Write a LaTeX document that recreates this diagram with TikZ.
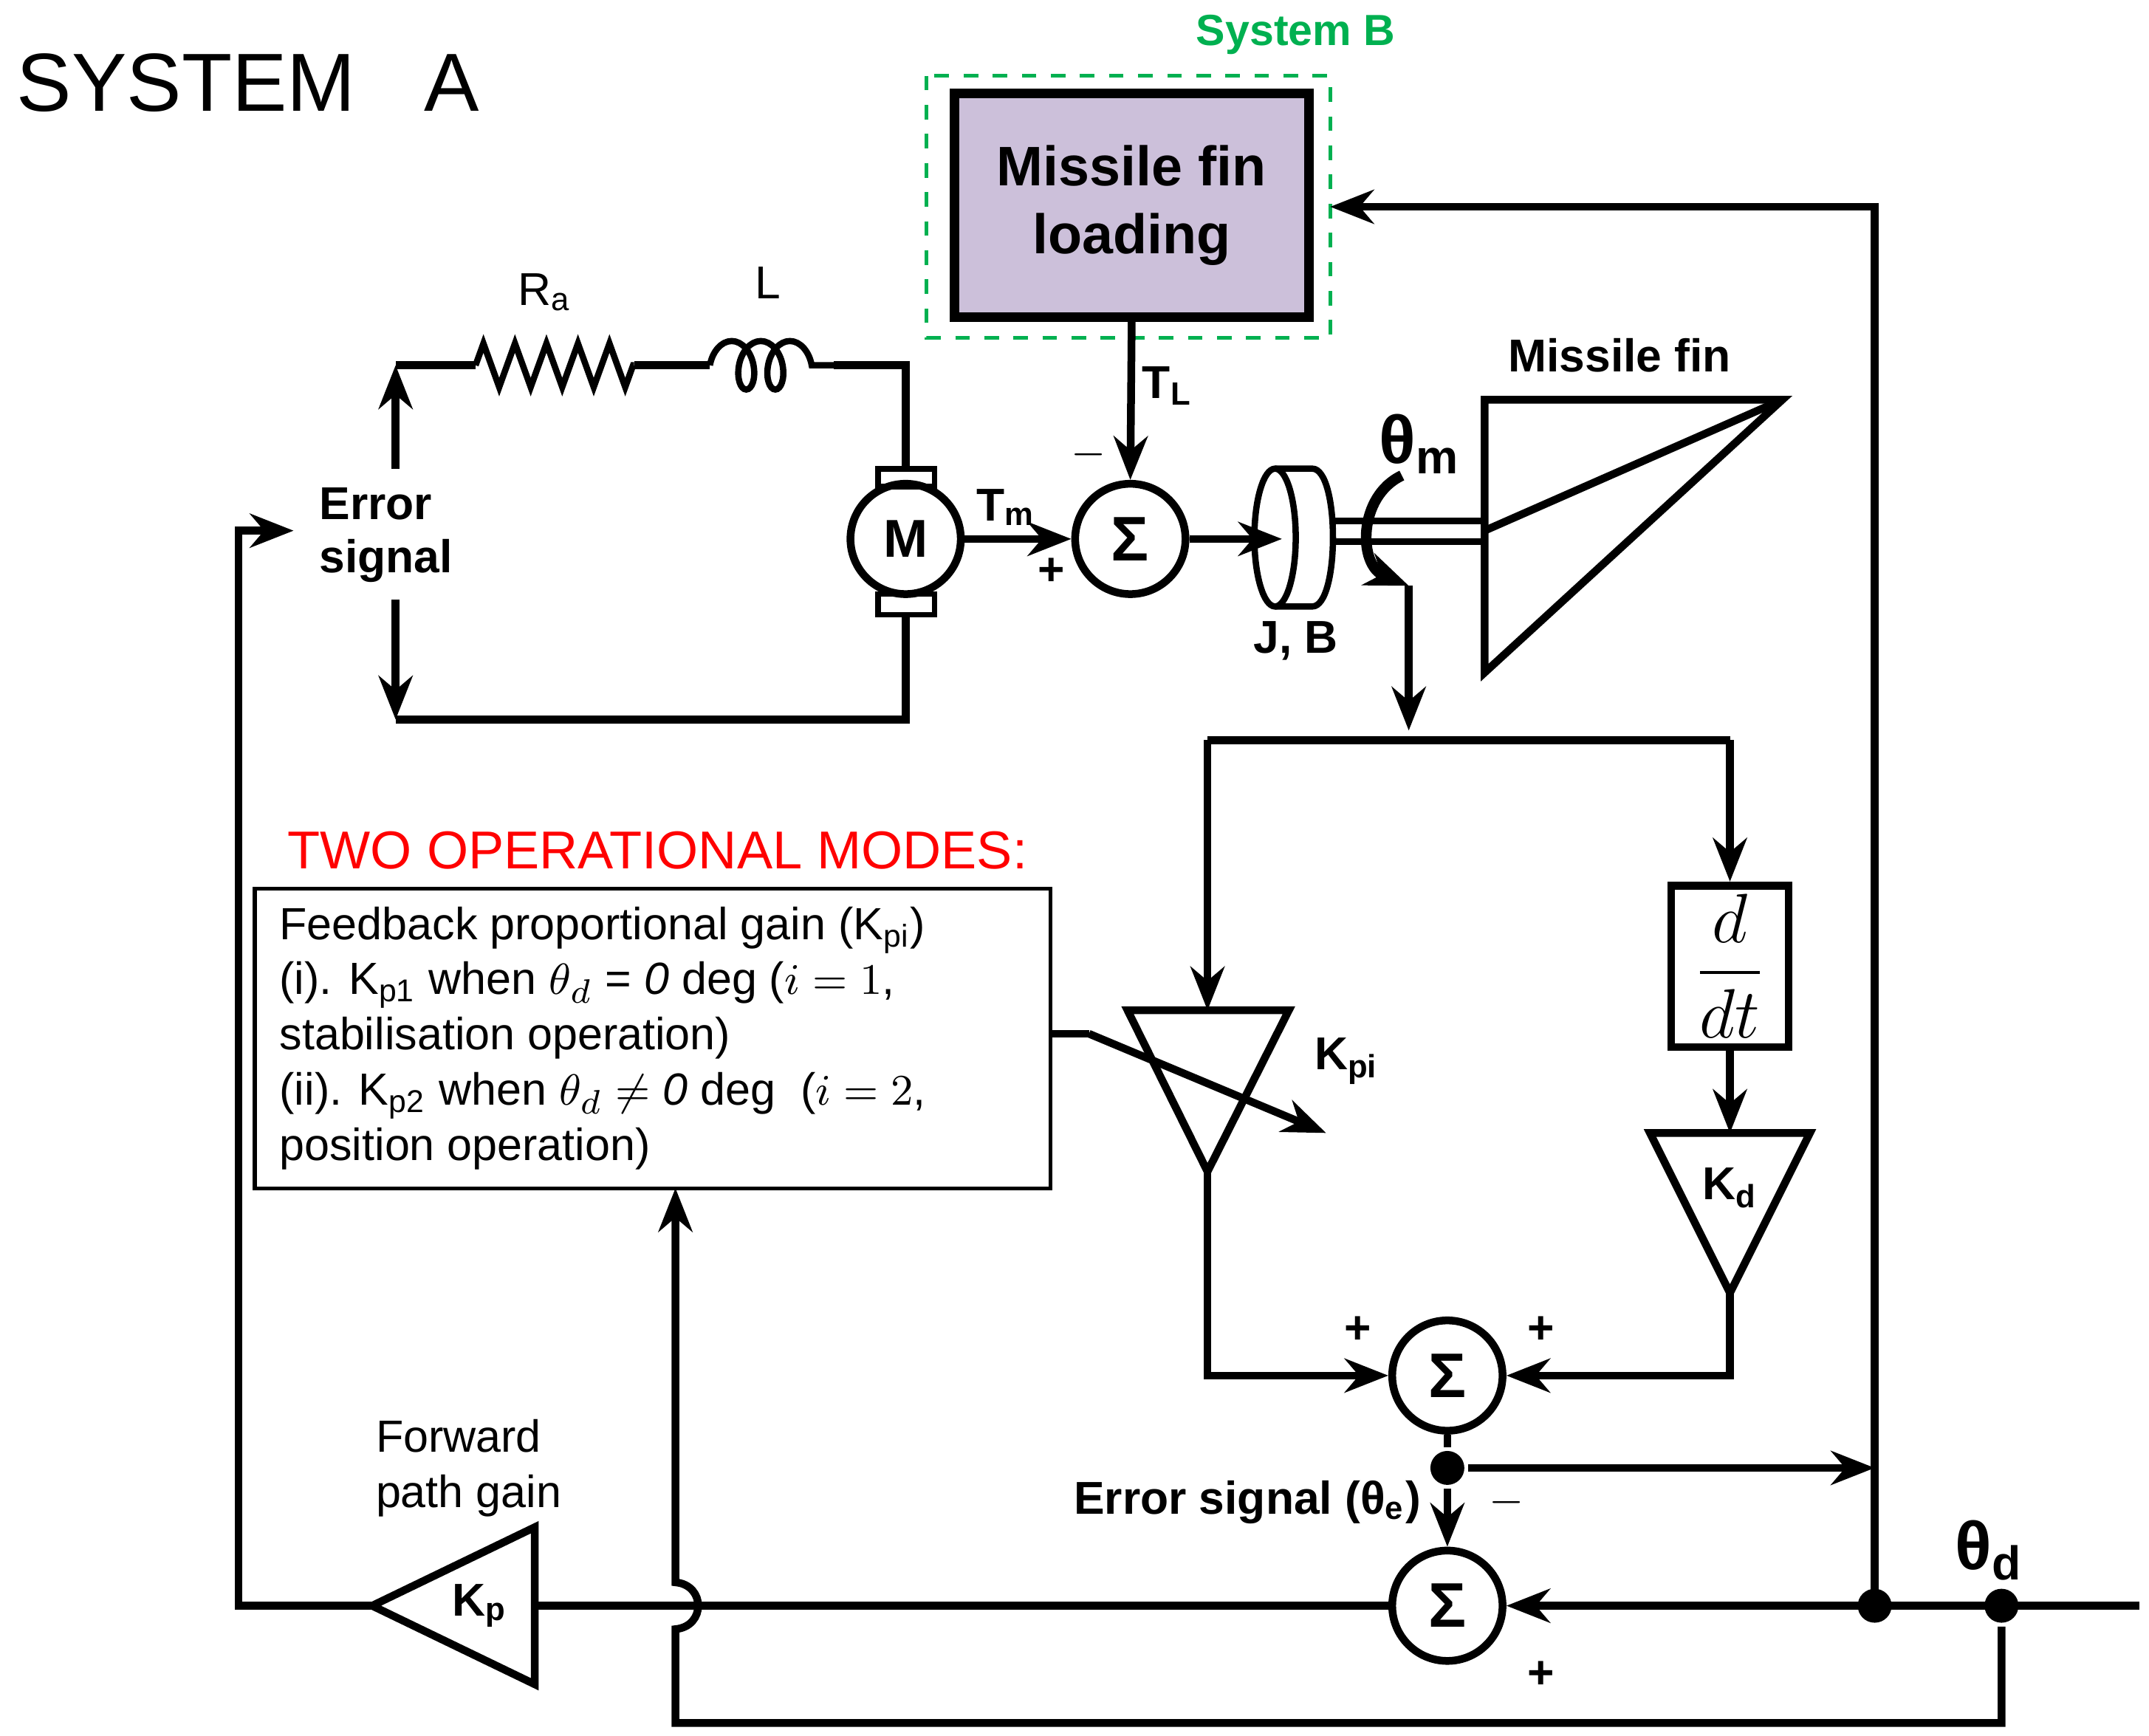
\documentclass[tikz,border=0pt]{standalone}
\usepackage{amsmath}
\usepackage{fontspec}
\setmainfont{Liberation Sans}
\usetikzlibrary{arrows.meta,decorations.pathmorphing}
\definecolor{lav}{HTML}{CCC0DA}
\definecolor{sysb}{HTML}{00B050}
\begin{document}
\begin{tikzpicture}[x=0.01cm,y=-0.01cm,line width=1.6pt,
  arr/.style={-{Stealth[length=9pt,width=7pt]}},
  sum/.style={circle,draw,minimum size=0.8cm,inner sep=0pt,font=\bfseries\fontsize{13}{13}\selectfont},
  lbl/.style={font=\bfseries\fontsize{9.5}{11}\selectfont},
  dot/.style={circle,fill,inner sep=0pt,minimum size=7pt}]
\useasboundingbox (0,0) rectangle (1559,1259);
\node[font=\fontsize{17}{17}\selectfont] (sa) at (180,60) {SYSTEM\ \ \ A};
% System B
\draw[sysb,dashed,line width=0.8pt] (672,55) rectangle (965,245);
\node[sysb,font=\bfseries\fontsize{9}{9}\selectfont] (sbl) at (940,25) {System B};
\node[draw,fill=lav,line width=2pt,minimum width=2.57cm,minimum height=1.62cm,align=center,font=\bfseries\fontsize{11.5}{14}\selectfont] (mfl) at (821,149) {Missile fin\\loading};
% feedback to box
\coordinate (fbR) at (1360,150);
\draw[arr] (1360,1165) -- (fbR) -- (965,150);
% sums
\node[sum] (s1) at (820,391) {Σ};
\node[sum] (s2) at (1050,998) {Σ};
\node[sum] (s3) at (1050,1165) {Σ};
\draw[arr] (mfl.south) -- (s1.north);
\node[lbl] (tl) at (847,280) {T\textsubscript{L}};
\node[lbl] (m1) at (790,330) {$-$};
% motor
\node[circle,draw,minimum size=0.8cm,inner sep=0pt,font=\bfseries\fontsize{11}{11}\selectfont] (mot) at (657,391) {M};
\draw[line width=1.2pt] (637,340) rectangle (678,353);
\draw[line width=1.2pt] (637,431) rectangle (678,446);
\draw (657,340) -- (657,265) -- (605,265);
\draw (460,265) -- (515,265);
\draw[decorate,decoration={zigzag,segment length=6.5pt,amplitude=4.5pt},line width=1.3pt] (345,265) -- (460,265);
\draw (345,265) -- (287,265);
\draw[decorate,decoration={coil,aspect=0.6,segment length=6pt,amplitude=5pt},line width=1.3pt] (515,265) -- (605,265);
\draw (657,446) -- (657,522) -- (287,522);
\draw[arr] (287,340) -- (287,265);
\draw[arr] (287,435) -- (287,522);
\node[lbl,align=left] (es) at (280,388) {Error\\signal};
\node[font=\fontsize{9.5}{9.5}\selectfont] (ra) at (395,212) {R\textsubscript{a}};
\node[font=\fontsize{9.5}{9.5}\selectfont] (ll) at (557,205) {L};
\draw[arr] (mot.east) -- (s1.west);
\node[lbl] (tm) at (730,368) {T\textsubscript{m}};
\node[lbl] (p1) at (763,415) {+};
% inertia
\draw[line width=1.3pt] (925,390) ellipse (15 and 50);
\draw[line width=1.3pt] (925,340) -- (952,340) .. controls (972,340) and (972,440) .. (952,440) -- (925,440);
\draw[arr] (s1.east) -- (930,391);
\node[lbl] (jb) at (940,465) {J, B};
\draw[line width=1.3pt] (967,378) -- (1077,378) (967,393) -- (1077,393);
\draw[arr,line width=2.2pt] (1017,345) .. controls (985,360) and (985,410) .. (1022,425);
\node[font=\bfseries\fontsize{14}{14}\selectfont] (thm) at (1030,322) {θ\textsubscript{m}};
% missile fin
\draw (1077,290) -- (1293,290) -- (1077,488) -- cycle;
\draw (1077,385) -- (1293,290);
\node[lbl] (mf) at (1175,258) {Missile fin};
\draw[arr] (1022,425) -- (1022,530);
\draw (876,537) -- (1255,537);
% Kpi
\draw (818,733) -- (935,733) -- (876,850) -- cycle;
\coordinate (kpit) at (876,733);
\draw[arr] (876,537) -- (kpit);
\node[lbl] (kpil) at (977,770) {K\textsubscript{pi}};
% ddt
\node[draw,minimum width=0.85cm,minimum height=1.17cm,inner sep=0pt] (ddt) at (1255,701) {\fontsize{14}{14}\selectfont$\dfrac{d}{dt}$};
\draw[arr] (1255,537) -- (ddt.north);
\draw (1197,822) -- (1313,822) -- (1255,938) -- cycle;
\draw[arr] (ddt.south) -- (1255,822);
\node[lbl] (kd) at (1255,862) {K\textsubscript{d}};
% text box
\node[red,font=\fontsize{11}{11}\selectfont] (tom) at (477,617) {TWO OPERATIONAL MODES:};
\node[draw,line width=0.8pt,minimum width=5.77cm,minimum height=2.17cm,inner sep=0pt] (tb) at (473.5,753.5) {};
\node[anchor=north west,align=left,font=\fontsize{9.3}{11.4}\selectfont,inner sep=0pt] (tbt) at (200,655) {Feedback proportional gain (K\textsubscript{pi})\\
(i). K\textsubscript{p1} when $\theta_d$ = \textit{0} deg ($i=1$,\\
stabilisation operation)\\
(ii). K\textsubscript{p2} when $\theta_d$ $\neq$ \textit{0} deg \ ($i=2$,\\
position operation)};
\draw (762,750) -- (790,750);
\draw[arr] (790,750) -- (962,822);
% to sum2
\draw[arr] (876,850) -- (876,998) -- (s2.west);
\draw[arr] (1255,938) -- (1255,998) -- (s2.east);
\node[lbl] (p2) at (985,965) {+};
\node[lbl] (p3) at (1118,965) {+};
\node[dot] (d1) at (1050,1065) {};
\draw (s2.south) -- (d1);
\draw[arr] (d1) -- (1360,1065);
\draw[arr] (d1) -- (s3.north);
\node[lbl] (m2) at (1093,1090) {$-$};
\node[lbl] (esl) at (905,1090) {Error signal (θ\textsubscript{e})};
\node[lbl] (p4) at (1118,1215) {+};
\node[dot] (d2) at (1360,1165) {};
\node[dot] (d3) at (1452,1165) {};
\coordinate (in) at (1552,1165);
\draw[arr] (in) -- (s3.east);
\node[font=\bfseries\fontsize{14}{14}\selectfont] (thd) at (1443,1125) {θ\textsubscript{d}};
\draw[arr] (d3) -- (1452,1250) -- (490,1250) -- (490,1182) .. controls (512,1180) and (512,1150) .. (490,1148) -- (490,862);
% Kp
\draw (388,1108) -- (388,1222) -- (270,1165) -- cycle;
\node[lbl] (kp) at (348,1165) {K\textsubscript{p}};
\draw (s3.west) -- (388,1165);
\draw[arr] (270,1165) -- (173,1165) -- (173,385) -- (213,385);
\node[align=left,font=\fontsize{9.3}{11.4}\selectfont] (fpg) at (340,1065) {Forward\\path gain};
\end{tikzpicture}
\end{document}
